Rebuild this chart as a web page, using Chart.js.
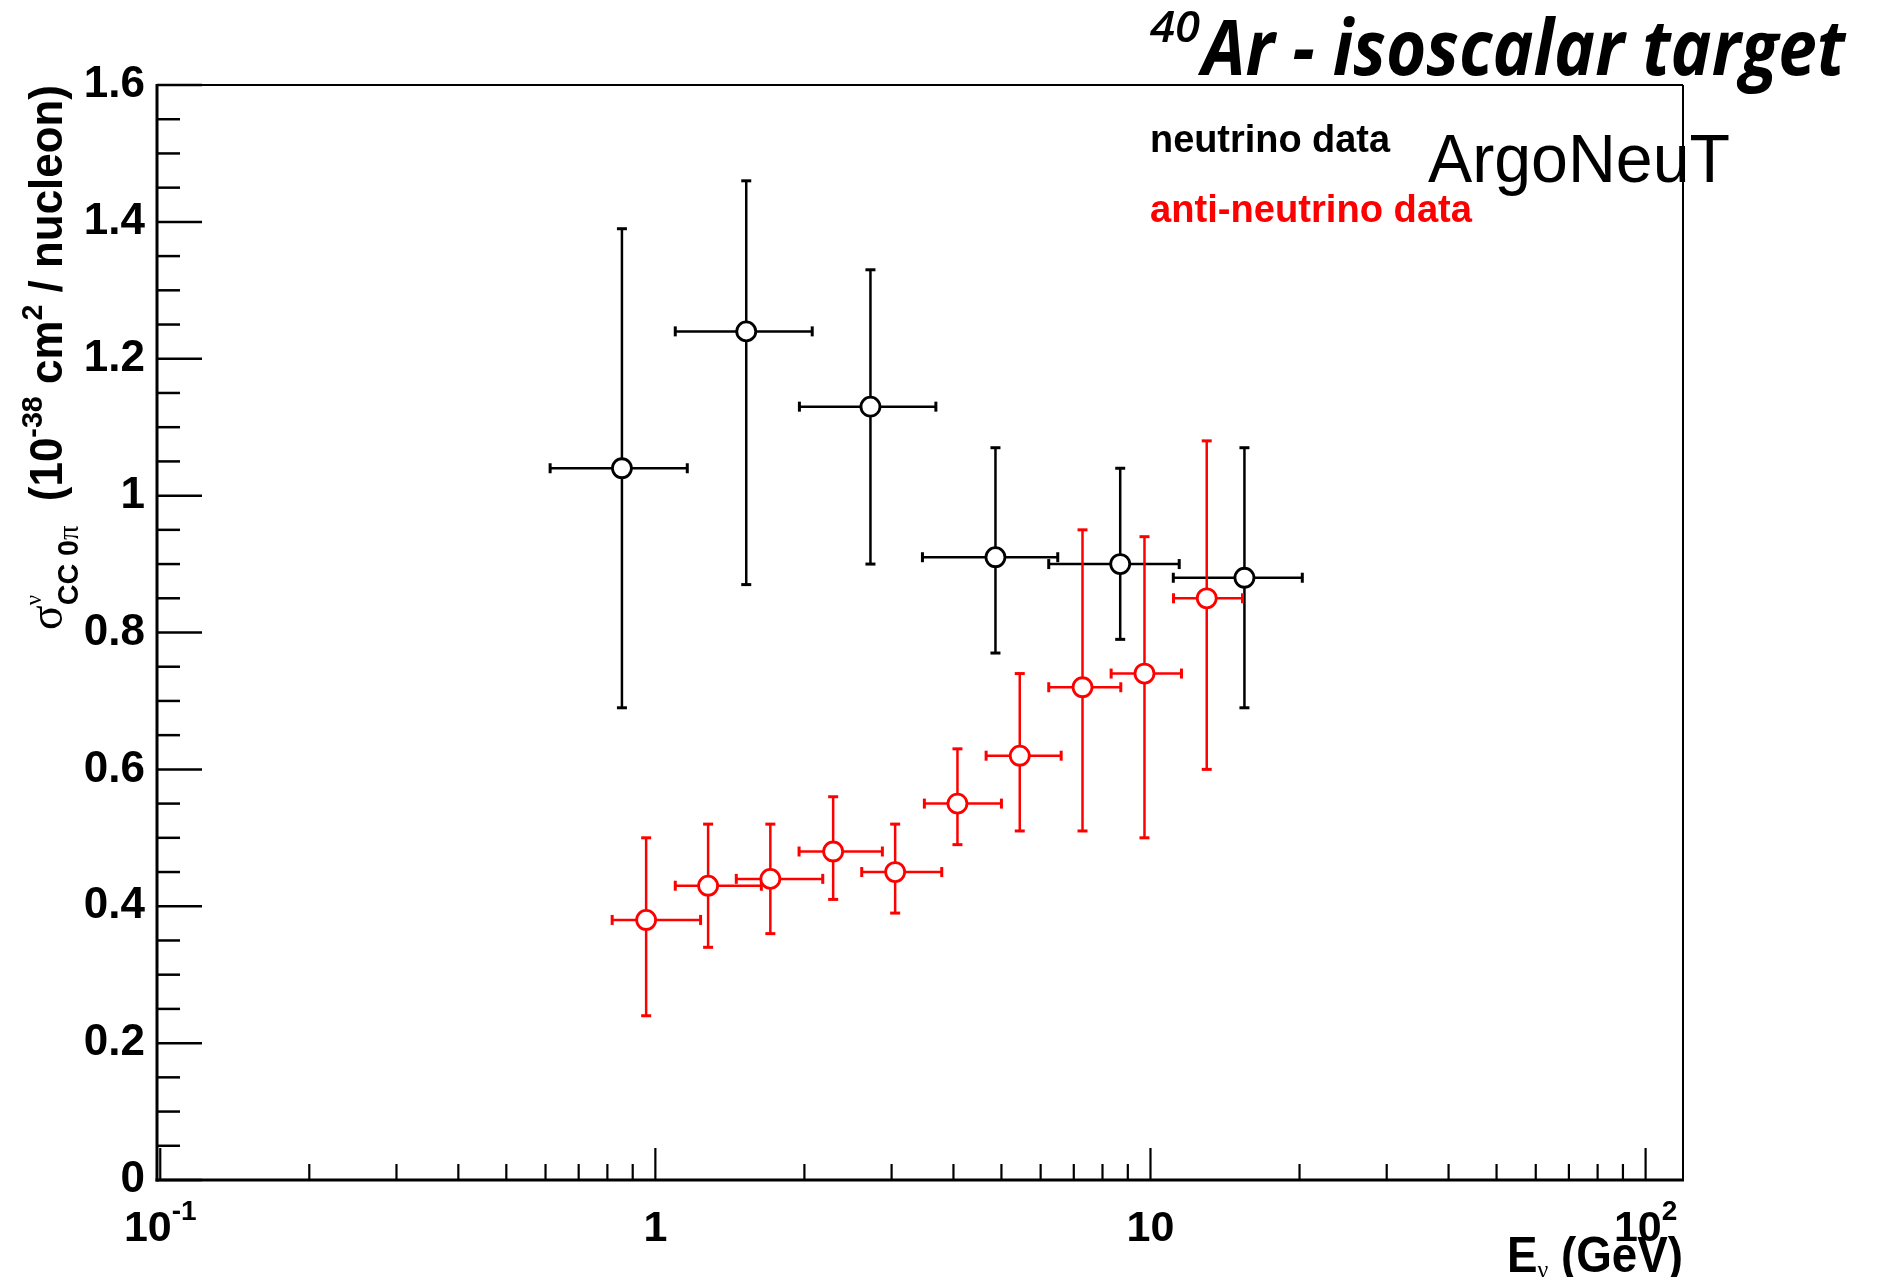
<!DOCTYPE html>
<html>
<head>
<meta charset="utf-8">
<title>ArgoNeuT CC 0pi cross section</title>
<script src="https://cdn.jsdelivr.net/npm/chart.js@4.4.0/dist/chart.umd.min.js"></script>
<style>
  html, body { margin: 0; padding: 0; background: #fff; }
  canvas { display: block; }
</style>
</head>
<body>
<canvas id="mainChart" width="1878" height="1277"></canvas>
<script>
// --- Data ---
// neutrino: energy bin centre + horizontal extent, cross section + error extent
const NU_E     = [0.856, 1.526, 2.719, 4.863, 8.687, 15.48];
const NU_E_LO  = [0.613, 1.097, 1.954, 3.463, 6.23, 11.12];
const NU_E_HI  = [1.160, 2.074, 3.686, 6.497, 11.43, 20.26];
const NU_XS    = [1.04, 1.24, 1.13, 0.91, 0.90, 0.88];
const NU_XS_LO = [0.69, 0.87, 0.90, 0.77, 0.79, 0.69];
const NU_XS_HI = [1.39, 1.46, 1.33, 1.07, 1.04, 1.07];

// anti-neutrino
const ANU_E     = [0.958, 1.278, 1.707, 2.286, 3.050, 4.075, 5.445, 7.290, 9.725, 12.99];
const ANU_E_LO  = [0.818, 1.097, 1.457, 1.951, 2.611, 3.494, 4.656, 6.23, 8.328, 11.13];
const ANU_E_HI  = [1.234, 1.637, 2.178, 2.874, 3.788, 5.0, 6.601, 8.71, 11.55, 15.34];
const ANU_XS    = [0.38, 0.43, 0.44, 0.48, 0.45, 0.55, 0.62, 0.72, 0.74, 0.85];
const ANU_XS_LO = [0.24, 0.34, 0.36, 0.41, 0.39, 0.49, 0.51, 0.51, 0.50, 0.60];
const ANU_XS_HI = [0.50, 0.52, 0.52, 0.56, 0.52, 0.63, 0.74, 0.95, 0.94, 1.08];

// axes
const X_MIN = 0.0985, X_MAX = 119;
const Y_MIN = 0, Y_MAX = 1.6;
const X_LABEL_VALUES = [0.1, 1, 10, 100];
const X_LABEL_BASE   = ['10', '1', '10', '10'];
const X_LABEL_EXP    = ['-1', '', '', '2'];
const X_MINOR_MULT   = [1, 2, 3, 4, 5, 6, 7, 8, 9];
const Y_MAJOR_STEP = 0.2, Y_MINOR_STEP = 0.05;

// --- Fonts ---
const SANS = '"Liberation Sans", Arial, Helvetica, sans-serif';
const SERIF = '"Liberation Serif", "DejaVu Serif", serif';
const TITLE_FONT = '"Open Sans", "Noto Sans", sans-serif';

// --- Text helpers (rich text with super/subscripts) ---
function richWidth(ctx, parts) {
  let w = 0;
  for (const p of parts) {
    ctx.font = p.font;
    if (!p.noAdvance) w += ctx.measureText(p.t).width;
  }
  return w;
}

function drawRich(ctx, parts, x, y, o = {}) {
  const natural = richWidth(ctx, parts);
  const sx = o.width ? o.width / natural : 1;
  const w = natural * sx;
  ctx.save();
  ctx.translate(x, y);
  if (o.rotate) ctx.rotate(o.rotate);
  const start = o.align === 'right' ? -w : o.align === 'center' ? -w / 2 : 0;
  ctx.translate(start, 0);
  ctx.scale(sx, 1);
  ctx.textAlign = 'left';
  ctx.textBaseline = 'alphabetic';
  let cx = 0;
  for (const p of parts) {
    ctx.font = p.font;
    ctx.fillStyle = p.color || o.color || '#000';
    ctx.fillText(p.t, cx + (p.dx || 0), p.dy || 0);
    if (!p.noAdvance) cx += ctx.measureText(p.t).width;
  }
  ctx.restore();
}

function line(ctx, x1, y1, x2, y2) {
  ctx.beginPath();
  ctx.moveTo(x1, y1);
  ctx.lineTo(x2, y2);
  ctx.stroke();
}

// --- Error bars, drawn under the markers ---
const errorBars = {
  id: 'errorBars',
  beforeDatasetsDraw(chart) {
    const { ctx, scales: { x, y } } = chart;
    chart.data.datasets.forEach(ds => {
      const e = ds.err;
      ctx.save();
      ctx.strokeStyle = ds.borderColor;
      ds.data.forEach((pt, i) => {
        const px = x.getPixelForValue(pt.x), py = y.getPixelForValue(pt.y);
        const xl = x.getPixelForValue(e.xLo[i]), xh = x.getPixelForValue(e.xHi[i]);
        const yl = y.getPixelForValue(e.yLo[i]), yh = y.getPixelForValue(e.yHi[i]);
        ctx.lineWidth = 2.5;
        line(ctx, xl, py, xh, py);
        line(ctx, px, yl, px, yh);
        ctx.lineWidth = 3;
        line(ctx, xl, py - 5, xl, py + 5);
        line(ctx, xh, py - 5, xh, py + 5);
        line(ctx, px - 5, yl, px + 5, yl);
        line(ctx, px - 5, yh, px + 5, yh);
      });
      ctx.restore();
    });
  }
};

// --- ROOT-like frame, inner ticks, labels and titles ---
const rootFrame = {
  id: 'rootFrame',
  afterDraw(chart) {
    const { ctx, chartArea: a, scales: { x, y } } = chart;
    ctx.save();
    ctx.strokeStyle = '#000';

    // frame
    ctx.lineWidth = 2;
    line(ctx, a.left, a.top, a.right, a.top);
    line(ctx, a.right, a.top, a.right, a.bottom);
    ctx.lineWidth = 3;
    line(ctx, a.left, a.top - 1, a.left, a.bottom + 1.5);
    line(ctx, a.left - 1.5, a.bottom, a.right + 1, a.bottom);

    // y ticks (inside)
    ctx.lineWidth = 2.5;
    const n = Math.round((Y_MAX - Y_MIN) / Y_MINOR_STEP);
    const per = Math.round(Y_MAJOR_STEP / Y_MINOR_STEP);
    for (let k = 0; k <= n; k++) {
      const py = y.getPixelForValue(Y_MIN + k * Y_MINOR_STEP);
      const len = k % per === 0 ? 45 : 23;
      line(ctx, a.left, py, a.left + len, py);
    }

    // x ticks (inside, log)
    ctx.lineWidth = 2.2;
    X_LABEL_VALUES.forEach(d => {
      X_MINOR_MULT.forEach(m => {
        const v = d * m;
        if (v < X_MIN || v > X_MAX) return;
        const px = x.getPixelForValue(v);
        const len = m === 1 ? 32 : 16;
        line(ctx, px, a.bottom, px, a.bottom - len);
      });
    });

    // x tick labels
    X_LABEL_VALUES.forEach((v, i) => {
      const parts = [{ t: X_LABEL_BASE[i], font: `bold 43px ${SANS}` }];
      if (X_LABEL_EXP[i]) parts.push({ t: X_LABEL_EXP[i], font: `bold 28px ${SANS}`, dy: -21 });
      drawRich(ctx, parts, x.getPixelForValue(v), 1241, { align: 'center' });
    });

    // x title
    drawRich(ctx, [
      { t: 'E', font: `bold 50px ${SANS}` },
      { t: 'ν', font: `26px ${SERIF}`, dy: 6 },
      { t: ' (GeV)', font: `bold 50px ${SANS}` }
    ], a.right, 1272, { align: 'right', width: 176 });

    // y title (rotated)
    drawRich(ctx, [
      { t: 'σ', font: `48px ${SERIF}` },
      { t: 'ν', font: `24px ${SERIF}`, dy: -21, noAdvance: true },
      { t: 'CC 0', font: `bold 30px ${SANS}`, dy: 16 },
      { t: 'π', font: `30px ${SERIF}`, dy: 16 },
      { t: '  (10', font: `bold 46px ${SANS}` },
      { t: '-38', font: `bold 30px ${SANS}`, dy: -20 },
      { t: ' cm', font: `bold 46px ${SANS}` },
      { t: '2', font: `bold 30px ${SANS}`, dy: -20 },
      { t: ' / nucleon)', font: `bold 46px ${SANS}` }
    ], 62, 630, { rotate: -Math.PI / 2, width: 545 });

    // header text
    drawRich(ctx, [{ t: '40', font: `italic 600 44px ${TITLE_FONT}` }], 1150, 42, { width: 50 });
    drawRich(ctx, [{ t: 'Ar - isoscalar target', font: `italic bold 77px ${TITLE_FONT}` }], 1202, 75, { width: 643 });

    drawRich(ctx, [{ t: 'neutrino data', font: `bold 38px ${SANS}` }], 1150, 152, { width: 240 });
    drawRich(ctx, [{ t: 'anti-neutrino data', font: `bold 38px ${SANS}` }], 1150, 221.5, { width: 322, color: '#ff0000' });
    drawRich(ctx, [{ t: 'ArgoNeuT', font: `68px ${SANS}` }], 1428, 181.5, { width: 302 });

    ctx.restore();
  }
};

function points(xs, ys) {
  return xs.map((v, i) => ({ x: v, y: ys[i] }));
}

const canvas = document.getElementById('mainChart');
new Chart(canvas.getContext('2d'), {
  type: 'scatter',
  data: {
    datasets: [
      {
        label: 'neutrino data',
        data: points(NU_E, NU_XS),
        err: { xLo: NU_E_LO, xHi: NU_E_HI, yLo: NU_XS_LO, yHi: NU_XS_HI },
        borderColor: '#000000',
        backgroundColor: '#ffffff',
        pointRadius: 9.5,
        pointBorderWidth: 2.8,
        pointHoverRadius: 9.5
      },
      {
        label: 'anti-neutrino data',
        data: points(ANU_E, ANU_XS),
        err: { xLo: ANU_E_LO, xHi: ANU_E_HI, yLo: ANU_XS_LO, yHi: ANU_XS_HI },
        borderColor: '#ff0000',
        backgroundColor: '#ffffff',
        pointRadius: 9.5,
        pointBorderWidth: 2.8,
        pointHoverRadius: 9.5
      }
    ]
  },
  options: {
    responsive: false,
    animation: false,
    events: [],
    layout: { padding: { left: 0, top: 85, right: 195, bottom: 0 } },
    plugins: { legend: { display: false }, tooltip: { enabled: false } },
    scales: {
      x: {
        type: 'logarithmic',
        min: X_MIN,
        max: X_MAX,
        grid: { display: false, drawTicks: false },
        border: { display: false },
        ticks: { display: false },
        afterFit: s => { s.height = 97; }
      },
      y: {
        min: Y_MIN,
        max: Y_MAX,
        grid: { display: false, drawTicks: false },
        border: { display: false },
        ticks: {
          stepSize: Y_MAJOR_STEP,
          padding: 12,
          color: '#000',
          font: { family: SANS, size: 44, weight: 'bold' },
          callback: v => String(Number(v.toFixed(1)))
        },
        afterFit: s => { s.width = 157; }
      }
    }
  },
  plugins: [errorBars, rootFrame]
});
</script>
</body>
</html>
